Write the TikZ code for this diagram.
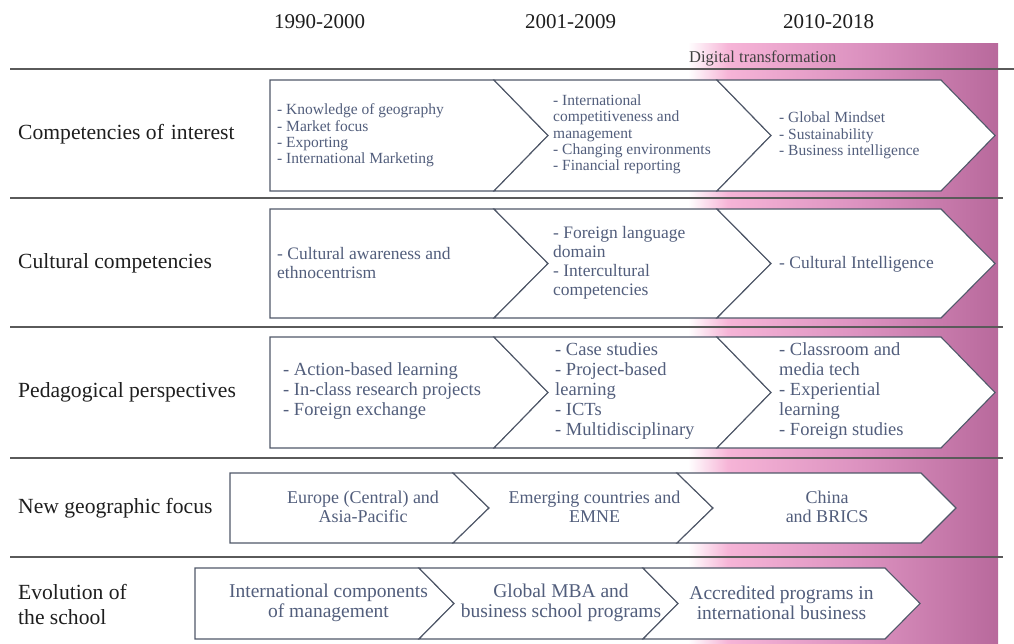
\documentclass[tikz,border=0pt]{standalone}
\usepackage{fontspec}
\setmainfont{Liberation Serif}
\definecolor{txt}{RGB}{82,94,124}
\definecolor{brd}{RGB}{80,88,105}
\definecolor{lbl}{RGB}{30,30,30}
\definecolor{pinkA}{RGB}{246,180,215}
\definecolor{pinkB}{RGB}{220,146,192}
\definecolor{mauve}{RGB}{184,105,156}
\definecolor{rulec}{RGB}{90,90,90}
\pgfdeclarehorizontalshading{dtshade}{100bp}{color(0bp)=(white); color(25bp)=(white); color(31.5bp)=(pinkA); color(52.7bp)=(pinkB); color(75bp)=(mauve); color(100bp)=(mauve)}
\tikzset{
  chev/.style={draw=brd, line width=1.1pt, fill=white, line join=miter},
  rowrule/.style={draw=rulec, line width=1.8pt},
  rowlabel/.style={anchor=west, inner sep=0pt, text=lbl, align=left, font=\fontsize{21.6}{25}\selectfont},
  header/.style={inner sep=0pt, text=lbl, font=\fontsize{21}{25}\selectfont},
  itemsA/.style={anchor=west, inner sep=0pt, text=txt, align=left, font=\fontsize{15.5}{16.3}\selectfont},
  itemsB/.style={anchor=west, inner sep=0pt, text=txt, align=left, font=\fontsize{17.5}{19}\selectfont},
  itemsC/.style={anchor=west, inner sep=0pt, text=txt, align=left, font=\fontsize{18.5}{20}\selectfont},
  itemsD/.style={inner sep=0pt, text=txt, align=center, font=\fontsize{18}{19}\selectfont},
  itemsE/.style={inner sep=0pt, text=txt, align=center, font=\fontsize{19.5}{20}\selectfont},
}
\begin{document}
\begin{tikzpicture}[x=1pt,y=-1pt]
\useasboundingbox (0,0) rectangle (1014,643);
% digital transformation band
\shade[shading=dtshade] (688,43) rectangle (998,643);
\node[anchor=west, inner sep=0pt, text=lbl!85, font=\fontsize{16.5}{18}\selectfont] (dt) at (689,58) {Digital transformation};
% headers
\node[header] (h1) at (319.5,22) {1990-2000};
\node[header] (h2) at (570.5,22) {2001-2009};
\node[header] (h3) at (828.5,22) {2010-2018};
% rules
\draw[rowrule] (10,69) -- (1014,69);
\draw[rowrule] (10,198) -- (1003,198);
\draw[rowrule] (10,327) -- (1003,327);
\draw[rowrule] (10,458) -- (1003,458);
\draw[rowrule] (10,557) -- (1003,557);
% row labels
\node[rowlabel] (l1) at (18,134) {Competencies of\hspace{7pt}interest};
\node[rowlabel] (l2) at (18,263) {Cultural competencies};
\node[rowlabel] (l3) at (18,392) {Pedagogical perspectives};
\node[rowlabel] (l4) at (18,508) {New geographic focus};
\node[rowlabel] (l5) at (18,604.5) {Evolution of\\the school};
% row 1
\draw[chev] (270,80) -- (494,80) -- (548,135.5) -- (494,191) -- (270,191) -- cycle;
\draw[chev] (494,80) -- (717,80) -- (771,135.5) -- (717,191) -- (494,191) -- (548,135.5) -- cycle;
\draw[chev] (717,80) -- (941,80) -- (995,135.5) -- (941,191) -- (717,191) -- (771,135.5) -- cycle;
\node[itemsA] (r1a) at (277,135.5) {- Knowledge of geography\\- Market focus\\- Exporting\\- International Marketing};
\node[itemsA] (r1b) at (553,134.5) {- International\\competitiveness and\\management\\- Changing environments\\- Financial reporting};
\node[itemsA] (r1c) at (779,135.5) {- Global Mindset\\- Sustainability\\- Business intelligence};
% row 2
\draw[chev] (270,209) -- (494,209) -- (548,263.5) -- (494,318) -- (270,318) -- cycle;
\draw[chev] (494,209) -- (717,209) -- (771,263.5) -- (717,318) -- (494,318) -- (548,263.5) -- cycle;
\draw[chev] (717,209) -- (941,209) -- (995,263.5) -- (941,318) -- (717,318) -- (771,263.5) -- cycle;
\node[itemsB] (r2a) at (277,263) {- Cultural awareness and\\ethnocentrism};
\node[itemsB] (r2b) at (553,263) {- Foreign language\\domain\\- Intercultural\\competencies};
\node[itemsB] (r2c) at (779,264) {- Cultural Intelligence};
% row 3
\draw[chev] (270,337) -- (494,337) -- (548,392.5) -- (494,448) -- (270,448) -- cycle;
\draw[chev] (494,337) -- (717,337) -- (771,392.5) -- (717,448) -- (494,448) -- (548,392.5) -- cycle;
\draw[chev] (717,337) -- (941,337) -- (995,392.5) -- (941,448) -- (717,448) -- (771,392.5) -- cycle;
\node[itemsC] (r3a) at (283,391.5) {- Action-based learning\\- In-class research projects\\- Foreign exchange};
\node[itemsC] (r3b) at (555,391.5) {- Case studies\\- Project-based\\learning\\- ICTs\\- Multidisciplinary};
\node[itemsC] (r3c) at (779,391.5) {- Classroom and\\media tech\\- Experiential\\learning\\- Foreign studies};
% row 4
\draw[chev] (230,473) -- (453,473) -- (489,508) -- (453,543) -- (230,543) -- cycle;
\draw[chev] (453,473) -- (677,473) -- (713,508) -- (677,543) -- (453,543) -- (489,508) -- cycle;
\draw[chev] (677,473) -- (921,473) -- (956,508) -- (921,543) -- (677,543) -- (713,508) -- cycle;
\node[itemsD] (r4a) at (363,507) {Europe (Central) and\\Asia-Pacific};
\node[itemsD] (r4b) at (594.5,507) {Emerging countries and\\EMNE};
\node[itemsD] (r4c) at (827,507) {China\\and BRICS};
% row 5
\draw[chev] (195,568) -- (419,568) -- (454,603.5) -- (419,639) -- (195,639) -- cycle;
\draw[chev] (419,568) -- (643,568) -- (678,603.5) -- (643,639) -- (419,639) -- (454,603.5) -- cycle;
\draw[chev] (643,568) -- (885,568) -- (920,603.5) -- (885,639) -- (643,639) -- (678,603.5) -- cycle;
\node[itemsE] (r5a) at (328.5,603) {International components\\of management};
\node[itemsE] (r5b) at (561,603) {Global MBA and\\business school programs};
\node[itemsE] (r5c) at (781.5,603) {Accredited programs in\\international business};
\end{tikzpicture}
\end{document}
